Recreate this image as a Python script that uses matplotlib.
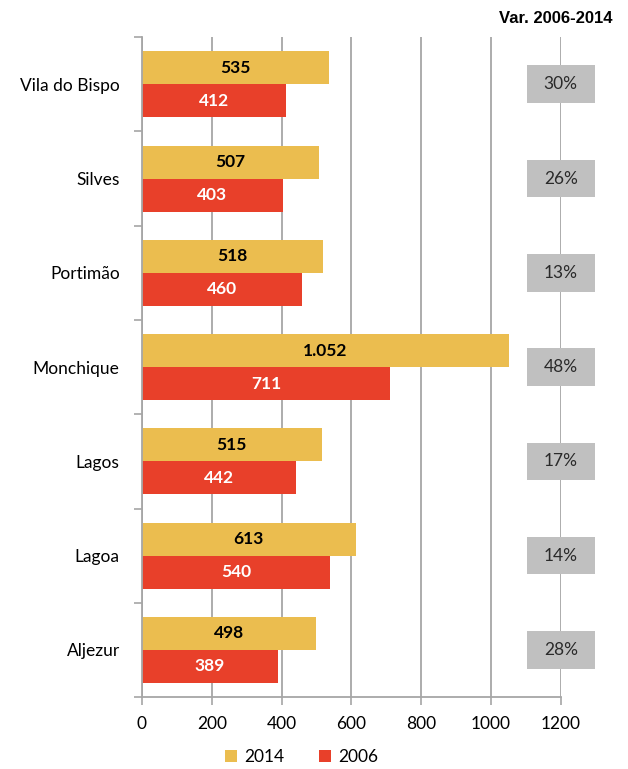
import numpy as np
import matplotlib.pyplot as plt
from matplotlib.patches import Rectangle

# data
cities = ['Vila do Bispo', 'Silves', 'Portimão', 'Monchique', 'Lagos', 'Lagoa', 'Aljezur']
v2014 = [535, 507, 518, 1052, 515, 613, 498]
v2006 = [412, 403, 460, 711, 442, 540, 389]
var_labels = ['30%', '26%', '13%', '48%', '17%', '14%', '28%']
xticks = [0, 200, 400, 600, 800, 1000, 1200]

plt.rcParams['font.family'] = ['Lato', 'DejaVu Sans']

yellow = '#EBBD4F'
red = '#E8402A'
grid = '#A6A6A6'

fig = plt.figure(figsize=(6.28, 7.69), dpi=100)
ax = fig.add_axes([0.226, 0.0936, 0.667, 0.858])

y = np.arange(len(cities))
h = 0.35
ax.barh(y - h / 2, v2014, height=h, color=yellow, zorder=2, label='2014')
ax.barh(y + h / 2, v2006, height=h, color=red, zorder=2, label='2006')

def fmt(v):
    return f'{v:,}'.replace(',', '.')

for i in range(len(cities)):
    ax.text(v2014[i] / 2, y[i] - h / 2, fmt(v2014[i]), ha='center', va='center',
            fontsize=12.5, fontweight='bold', color='black', zorder=4)
    ax.text(v2006[i] / 2, y[i] + h / 2, fmt(v2006[i]), ha='center', va='center',
            fontsize=12.5, fontweight='bold', color='white', zorder=4)
    # variation boxes
    ax.add_patch(Rectangle((1200 - 97, y[i] - 0.2), 195, 0.4, facecolor='#C0C0C0',
                           edgecolor='none', clip_on=False, zorder=3))
    ax.text(1200, y[i], var_labels[i], ha='center', va='center', fontsize=12.5,
            color='#2a2a2a', zorder=4, clip_on=False)

ax.set_xlim(0, 1200)
ax.set_ylim(len(cities) - 0.5, -0.5)
ax.set_xticks(xticks)
ax.set_xticklabels([str(t) for t in xticks], fontsize=12.5)
ax.set_yticks(y)
ax.set_yticklabels(cities, fontsize=12.5)
ax.set_yticks(np.arange(-0.5, len(cities)), minor=True)
ax.tick_params(axis='y', which='major', length=0, pad=16)
ax.tick_params(axis='y', which='minor', length=6, color=grid, width=1.2)
ax.tick_params(axis='x', length=6, color=grid, width=1.2, pad=8)

ax.xaxis.grid(True, color=grid, linewidth=1.3, zorder=0)
ax.set_axisbelow(True)
for s in ['top', 'right']:
    ax.spines[s].set_visible(False)
for s in ['left', 'bottom']:
    ax.spines[s].set_color(grid)
    ax.spines[s].set_linewidth(1.3)

fig.text(0.975, 0.976, 'Var. 2006-2014', ha='right', va='center', fontsize=12,
         fontweight='bold', family=['Liberation Sans Narrow', 'Liberation Sans', 'DejaVu Sans'])

fig.legend(loc='lower center', bbox_to_anchor=(0.48, -0.015), ncol=2, frameon=False,
           fontsize=12.5, handlelength=0.7, handleheight=0.7, handletextpad=0.4,
           columnspacing=2.0)

fig.savefig('out.png', dpi=100)
